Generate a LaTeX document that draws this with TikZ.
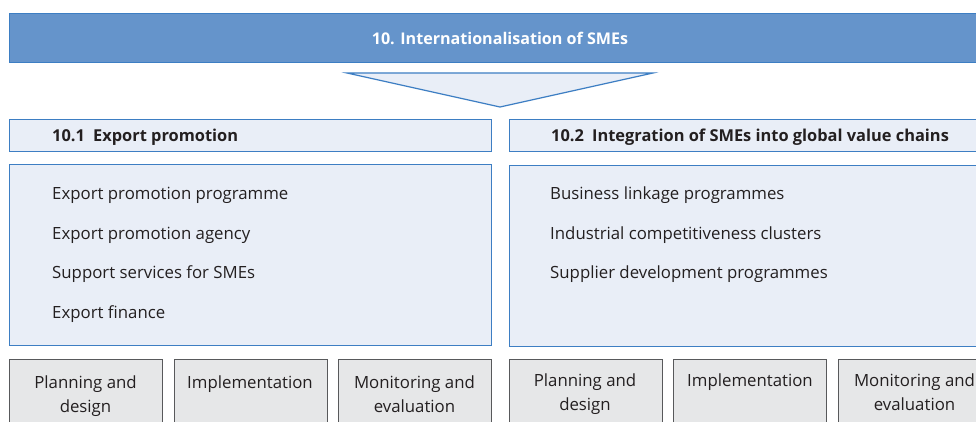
\documentclass[tikz,border=0pt]{standalone}
\usepackage{fontspec}
\setmainfont{Open Sans}
\definecolor{topfill}{HTML}{6594CB}
\definecolor{blueline}{HTML}{3D7EC3}
\definecolor{lightfill}{HTML}{E9EEF7}
\definecolor{greyfill}{HTML}{E6E7E8}
\definecolor{greyline}{HTML}{58595B}
\definecolor{txt}{HTML}{231F20}
\tikzset{
  bluebox/.style={draw=blueline, line width=1.4pt, fill=lightfill, inner sep=0pt, anchor=north west},
  topbox/.style={draw=blueline, line width=1.4pt, fill=topfill, inner sep=0pt, anchor=north west},
  greybox/.style={draw=greyline, line width=1.2pt, fill=greyfill, inner sep=0pt, anchor=north west, minimum width=153pt, minimum height=80pt},
  item/.style={anchor=west, text=txt, font=\fontsize{16.8}{20}\selectfont, inner sep=0pt},
  head/.style={anchor=west, text=txt, font=\fontsize{16.4}{20}\selectfont\bfseries, inner sep=0pt},
  gtext/.style={text=txt, font=\fontsize{16.8}{24}\selectfont, align=center, inner sep=0pt, anchor=north}
}
\begin{document}
\begin{tikzpicture}[x=1pt,y=-1pt]
\useasboundingbox (0,0) rectangle (976,422);
\clip (0,0) rectangle (976,422);
% top bar
\node[topbox, minimum width=1000pt, minimum height=49pt] (top) at (9,13) {};
\node[text=white, font=\fontsize{16.1}{19}\selectfont\bfseries, inner sep=0pt] (toptxt) at (500,38) {10. Internationalisation of SMEs};
% triangle
\coordinate (tl) at (347,73);
\coordinate (tr) at (653,73);
\coordinate (tb) at (500,107);
\draw[draw=blueline, line width=1.2pt, fill=lightfill, line join=miter] (tl) -- (tr) -- (tb) -- cycle;
% headers
\node[bluebox, minimum width=482pt, minimum height=32pt] (h1) at (9,119) {};
\node[bluebox, minimum width=500pt, minimum height=32pt] (h2) at (509,119) {};
\node[head] (h1t) at (52,137) {10.1\enspace Export promotion};
\node[head] (h2t) at (551,137) {10.2\enspace Integration of SMEs into global value chains};
% content boxes
\node[bluebox, minimum width=482pt, minimum height=181pt] (c1) at (9,164) {};
\node[bluebox, minimum width=500pt, minimum height=181pt] (c2) at (509,165) {};
\node[item] (a1) at (52,195.5) {Export promotion programme};
\node[item] (a2) at (52,235.5) {Export promotion agency};
\node[item] (a3) at (52,274.5) {Support services for SMEs};
\node[item] (a4) at (52,314.5) {Export finance};
\node[item] (b1) at (550,195.5) {Business linkage programmes};
\node[item] (b2) at (550,235.5) {Industrial competitiveness clusters};
\node[item] (b3) at (550,274.5) {Supplier development programmes};
% grey boxes
\node[greybox] (g1) at (9,359) {};
\node[greybox] (g2) at (174,359) {};
\node[greybox] (g3) at (338,359) {};
\node[greybox] (g4) at (509,359) {};
\node[greybox] (g5) at (673,359) {};
\node[greybox] (g6) at (838,359) {};
\node[gtext] (g1t) at (85.5,375.5) {Planning and\\design};
\node[gtext] (g2t) at (250,375.5) {Implementation};
\node[gtext] (g3t) at (414.5,375.5) {Monitoring and\\evaluation};
\node[gtext] (g4t) at (585,373.5) {Planning and\\design};
\node[gtext] (g5t) at (750,373.5) {Implementation};
\node[gtext] (g6t) at (914.5,373.5) {Monitoring and\\evaluation};
\end{tikzpicture}
\end{document}
